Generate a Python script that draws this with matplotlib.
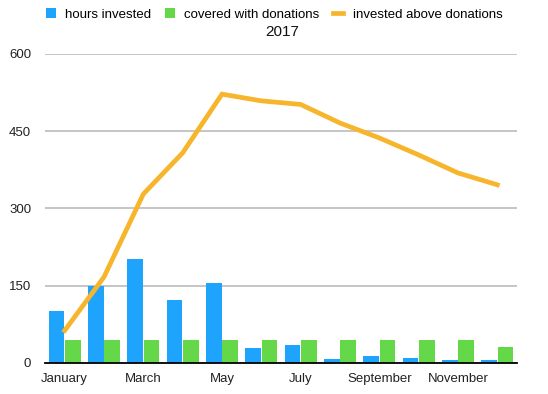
import matplotlib
matplotlib.use("Agg")
import matplotlib.pyplot as plt
import numpy as np

months = ["January", "February", "March", "April", "May", "June", "July",
          "August", "September", "October", "November", "December"]
hours_invested = [101, 150, 202, 122, 156, 29, 35, 8, 14, 10, 6, 6]
covered_donations = [44, 44, 44, 44, 44, 44, 44, 44, 44, 44, 44, 31]
invested_above = [63, 167, 328, 408, 522, 509, 502, 466, 437, 404, 369, 346]
yticks = [0, 150, 300, 450, 600]

plt.rcParams['font.family'] = ['Liberation Sans', 'DejaVu Sans']

fig = plt.figure(figsize=(5.48, 3.94), dpi=100)
ax = fig.add_axes([0.0821, 0.0787, 0.8613, 0.7843])

x = np.arange(len(months))
w = 0.4
b1 = ax.bar(x - 0.21, hours_invested, width=w, color='#1EA4FC', label='hours invested', zorder=2)
b2 = ax.bar(x + 0.21, covered_donations, width=w, color='#65D84A', label='covered with donations', zorder=2)
l1, = ax.plot(x, invested_above, color='#F7B52C', linewidth=3.4, label='invested above donations',
              zorder=3, solid_joinstyle='miter')

ax.set_xlim(-0.5, len(months) - 0.5)
ax.set_ylim(0, 600)
ax.set_yticks(yticks)
ax.set_yticklabels([str(v) for v in yticks], fontsize=9.5, color='#222222')
ax.set_xticks(x[::2])
ax.set_xticklabels(months[::2], fontsize=9.5, color='#222222')
ax.tick_params(axis='both', length=0)
ax.tick_params(axis='y', pad=10)
ax.tick_params(axis='x', pad=7)
ax.yaxis.grid(True, color='#BBBBBB', linewidth=1.2, zorder=0)
for s in ['top', 'right', 'left']:
    ax.spines[s].set_visible(False)
ax.spines['bottom'].set_color('black')
ax.spines['bottom'].set_linewidth(1.3)
ax.spines['bottom'].set_zorder(4)

fig.text(0.515, 0.918, '2017', ha='center', va='center', fontsize=11, color='#111111')
fig.legend([b1, b2, l1], ['hours invested', 'covered with donations', 'invested above donations'],
           loc='center', bbox_to_anchor=(0.5, 0.963), ncol=3, frameon=False,
           fontsize=9.5, handlelength=0.8, handleheight=0.8, handletextpad=0.7,
           columnspacing=1.0)

fig.savefig('out.png', dpi=100)
